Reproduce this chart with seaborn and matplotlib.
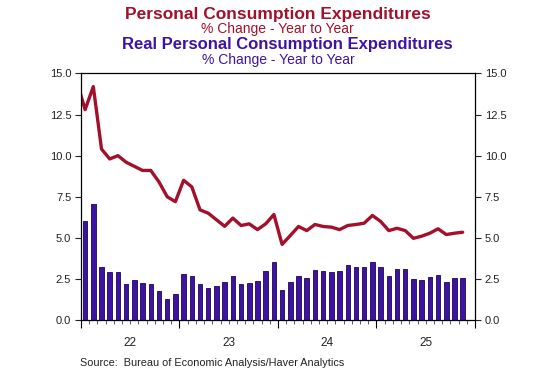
import numpy as np
import pandas as pd
import matplotlib
matplotlib.use("Agg")
import matplotlib.pyplot as plt
from matplotlib.ticker import FixedLocator, NullFormatter
import seaborn as sns

# ---- data (monthly, Dec-2021 .. Nov-2025) ----
pce_months = list(range(-1, 47))  # month index, 0 = Jan 2022
pce_yoy = [14.5, 12.8, 14.2, 10.4, 9.8, 10.0, 9.6, 9.35, 9.1, 9.1, 8.4, 7.5,
           7.2, 8.5, 8.1, 6.7, 6.5, 6.1, 5.7, 6.2, 5.75, 5.85, 5.5, 5.85,
           6.42, 4.6, 5.14, 5.69, 5.44, 5.81, 5.69, 5.65, 5.5, 5.75, 5.81, 5.89,
           6.36, 6.0, 5.44, 5.58, 5.44, 4.97, 5.1, 5.28, 5.55, 5.2, 5.28, 5.34]
real_months = list(range(0, 47))
real_pce_yoy = [6.0, 7.08, 3.2, 2.94, 2.94, 2.16, 2.45, 2.28, 2.2, 1.75, 1.26, 1.57,
                2.81, 2.69, 2.18, 1.94, 2.06, 2.32, 2.69, 2.18, 2.26, 2.36, 3.0, 3.55,
                1.83, 2.32, 2.65, 2.55, 3.04, 3.0, 2.94, 3.0, 3.36, 3.24, 3.2, 3.5,
                3.24, 2.67, 3.12, 3.08, 2.49, 2.45, 2.59, 2.75, 2.32, 2.53, 2.53]
year_labels = ["22", "23", "24", "25"]
y_ticks = [0.0, 2.5, 5.0, 7.5, 10.0, 12.5, 15.0]

RED = "#a3102c"
PURPLE = "#3f12a6"

sns.set_style("white")
plt.rcParams["font.family"] = ["Liberation Sans", "DejaVu Sans"]

fig = plt.figure(figsize=(5.4, 3.88), dpi=100)
ax = fig.add_axes([0.15, 0.1753, 0.7296, 0.6353])

df_bar = pd.DataFrame({"m": real_months, "v": real_pce_yoy})
df_line = pd.DataFrame({"m": pce_months, "v": pce_yoy})

sns.barplot(data=df_bar, x="m", y="v", native_scale=True, width=0.55,
            color=PURPLE, edgecolor="#1c0650", linewidth=0.6, saturation=1,
            errorbar=None, ax=ax)
sns.lineplot(data=df_line, x="m", y="v", color=RED, linewidth=2.4, ax=ax)

ax.set_xlim(-0.5, 47.5)
ax.set_ylim(0, 15)
ax.set_xlabel("")
ax.set_ylabel("")

for s in ax.spines.values():
    s.set_visible(True)
    s.set_color("black")
    s.set_linewidth(0.9)

# y ticks on both sides
ax.set_yticks(y_ticks)
ax.set_yticklabels([f"{t:.1f}" for t in y_ticks])
ax.tick_params(axis="y", which="major", left=True, right=True, labelleft=True,
               labelright=True, direction="out", length=4, width=0.8,
               labelsize=8, colors="#222222", pad=3)

# x: year boundaries (major), month ticks (minor), year labels (secondary axis)
bounds = [-0.5 + 12 * k for k in range(5)]
centers = [5.5 + 12 * k for k in range(4)]
ax.set_xticks(bounds)
ax.set_xticklabels([""] * len(bounds))
ax.tick_params(axis="x", which="major", bottom=True, direction="out", length=6,
               width=0.8, colors="black")
ax.xaxis.set_minor_locator(FixedLocator([-0.5 + i for i in range(49)]))
ax.xaxis.set_minor_formatter(NullFormatter())
ax.tick_params(axis="x", which="minor", bottom=True, direction="out", length=3,
               width=0.6, colors="#444444")

sec = ax.secondary_xaxis("bottom")
sec.set_xticks(centers)
sec.set_xticklabels(year_labels)
sec.tick_params(length=0, labelsize=8.5, colors="#222222", pad=12)
sec.spines["bottom"].set_visible(False)

# titles
fig.text(0.514, 1 - 14 / 388, "Personal Consumption Expenditures", ha="center", va="center",
         fontsize=12.5, fontweight="bold", color=RED)
fig.text(0.514, 1 - 29.5 / 388, "% Change - Year to Year", ha="center", va="center",
         fontsize=10, color=RED)
fig.text(0.532, 1 - 44.5 / 388, "Real Personal Consumption Expenditures", ha="center", va="center",
         fontsize=12, fontweight="bold", color=PURPLE)
fig.text(0.516, 1 - 60 / 388, "% Change - Year to Year", ha="center", va="center",
         fontsize=10, color=PURPLE)
fig.text(0.148, 1 - 363 / 388, "Source:  Bureau of Economic Analysis/Haver Analytics",
         ha="left", va="center", fontsize=7.8, color="#222222")

fig.savefig("out.png", dpi=100)
